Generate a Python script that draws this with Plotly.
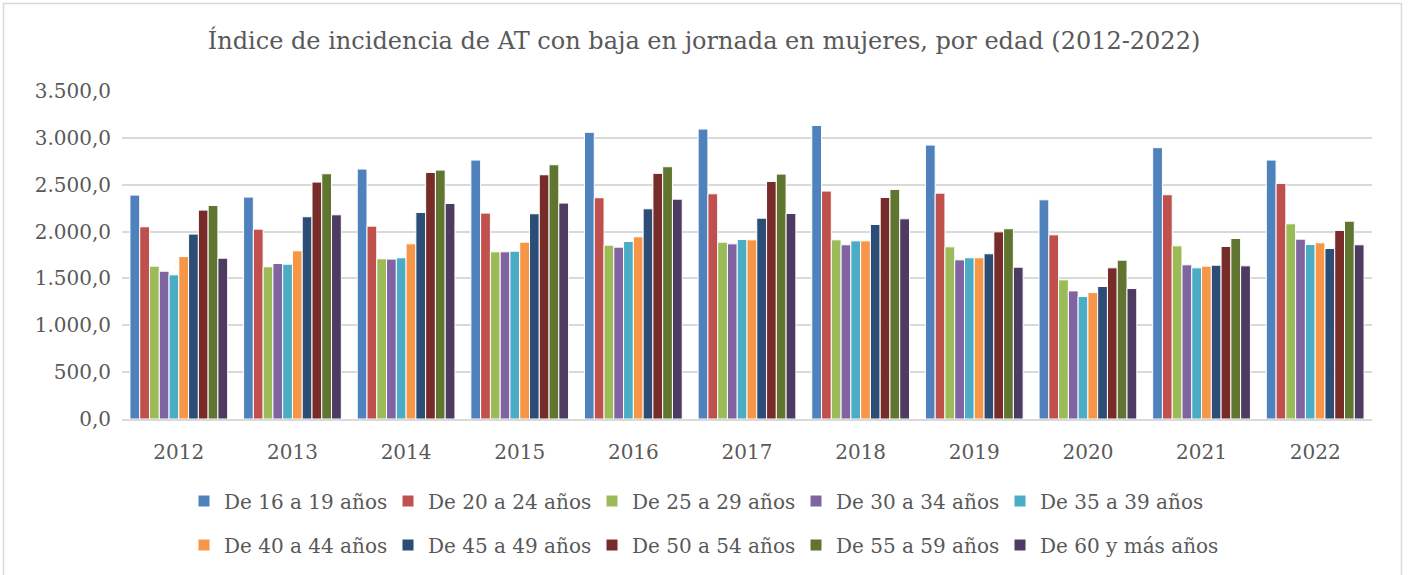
import plotly.graph_objects as go

years = ["2012", "2013", "2014", "2015", "2016", "2017", "2018", "2019", "2020", "2021", "2022"]
series_names = ["De 16 a 19 años", "De 20 a 24 años", "De 25 a 29 años", "De 30 a 34 años",
                "De 35 a 39 años", "De 40 a 44 años", "De 45 a 49 años", "De 50 a 54 años",
                "De 55 a 59 años", "De 60 y más años"]

v16_19 = [2389, 2368, 2667, 2763, 3059, 3094, 3133, 2923, 2339, 2895, 2763]
v20_24 = [2051, 2026, 2058, 2197, 2361, 2403, 2432, 2410, 1965, 2393, 2514]
v25_29 = [1631, 1624, 1709, 1784, 1855, 1887, 1912, 1837, 1485, 1848, 2083]
v30_34 = [1577, 1659, 1706, 1784, 1834, 1869, 1859, 1698, 1367, 1645, 1919]
v35_39 = [1538, 1652, 1720, 1791, 1894, 1916, 1901, 1720, 1307, 1613, 1862]
v40_44 = [1734, 1795, 1869, 1887, 1944, 1912, 1901, 1720, 1349, 1631, 1880]
v45_49 = [1973, 2158, 2204, 2190, 2243, 2143, 2076, 1763, 1414, 1641, 1819]
v50_54 = [2229, 2528, 2631, 2606, 2621, 2535, 2364, 1997, 1613, 1841, 2012]
v55_59 = [2279, 2617, 2656, 2713, 2692, 2613, 2450, 2030, 1695, 1926, 2111]
v60_mas = [1716, 2179, 2300, 2304, 2346, 2193, 2136, 1620, 1392, 1634, 1859]

all_values = [v16_19, v20_24, v25_29, v30_34, v35_39, v40_44, v45_49, v50_54, v55_59, v60_mas]
colors = ["#4F81BD", "#C0504D", "#9BBB59", "#8064A2", "#4BACC6",
          "#F79646", "#2C4D75", "#772C2A", "#5F7530", "#4D3B62"]

y_ticks = [0, 500, 1000, 1500, 2000, 2500, 3000, 3500]

FONT = "DejaVu Serif"
W, H = 1408, 575
L, R, T, B = 122, 36, 91, 156
pw, ph = W - L - R, H - T - B

def px_x(px):
    return (px - L) / pw

def px_y(py):
    return (H - B - py) / ph

legend_ids = ["legend"] * 5 + ["legend2"] * 4 + ["legend3"]

fig = go.Figure()
for name, vals, col, lg in zip(series_names, all_values, colors, legend_ids):
    fig.add_trace(go.Bar(x=years, y=vals, name=name, legend=lg,
                         marker=dict(color=col, line=dict(color="white", width=1))))

legend_common = dict(orientation="h", xanchor="left", yanchor="middle",
                     entrywidth=159, font=dict(family=FONT, size=20, color="#595959"),
                     itemwidth=30, traceorder="normal", bgcolor="rgba(0,0,0,0)")

LX = 184
fig.update_layout(
    width=W, height=H,
    margin=dict(l=L, r=R, t=T, b=B, autoexpand=False),
    paper_bgcolor="white", plot_bgcolor="white",
    separators=",.",
    barmode="group", bargap=0.14, bargroupgap=0.0,
    font=dict(family=FONT, color="#595959", size=20),
    title=dict(text="Índice de incidencia de AT con baja en jornada en mujeres, por edad (2012-2022)",
               x=0.5, xref="container", xanchor="center", y=1 - 41 / H, yanchor="middle",
               font=dict(family=FONT, size=24, color="#595959")),
    xaxis=dict(showgrid=False, showline=True, linecolor="#D9D9D9", linewidth=1.5,
               ticks="", ticklabelstandoff=14, tickfont=dict(family=FONT, size=20, color="#595959")),
    yaxis=dict(range=[0, 3500], tickvals=y_ticks, tickformat=",.1f", showgrid=True,
               gridcolor="#D9D9D9", gridwidth=1.5, zeroline=False, showline=False,
               ticks="", ticklabelstandoff=10, tickfont=dict(family=FONT, size=20, color="#595959")),
    legend=dict(x=px_x(LX), y=px_y(501), **legend_common),
    legend2=dict(x=px_x(LX), y=px_y(545), **legend_common),
    legend3=dict(orientation="h", xanchor="left", yanchor="middle", x=px_x(LX + 4 * 204), y=px_y(545),
                 font=dict(family=FONT, size=20, color="#595959"), itemwidth=30,
                 bgcolor="rgba(0,0,0,0)"),
    shapes=[dict(type="rect", xref="paper", yref="paper",
                 x0=px_x(3.5), x1=px_x(1401.5), y0=px_y(620), y1=px_y(3.5),
                 line=dict(color="#D9D9D9", width=1.5), fillcolor="rgba(0,0,0,0)", layer="below")],
)

fig.write_html("out.html", config={"displayModeBar": False},
               post_script="document.body.style.margin='0';document.body.style.overflow='hidden';")
